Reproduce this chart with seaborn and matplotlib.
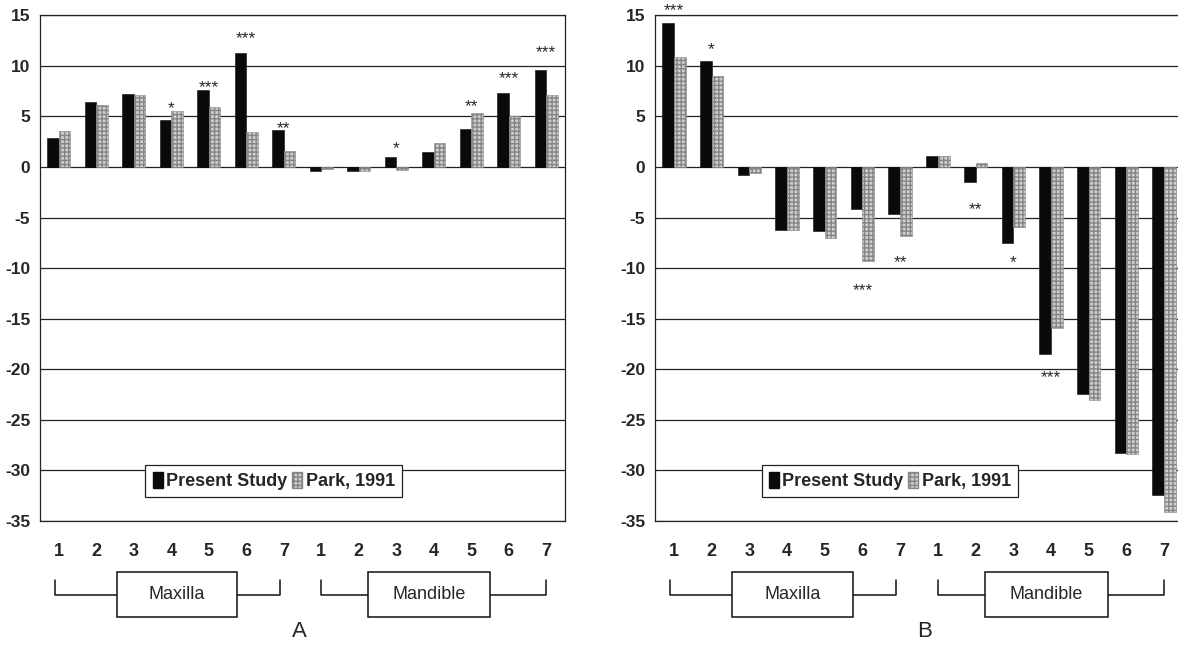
import pandas as pd
import matplotlib
matplotlib.use("Agg")
import matplotlib.pyplot as plt
import matplotlib.transforms as mtransforms
from matplotlib.patches import Rectangle, Patch
import seaborn as sns

# tooth positions: 7 maxilla + 7 mandible
teeth = ["1", "2", "3", "4", "5", "6", "7", "1", "2", "3", "4", "5", "6", "7"]
positions = ["Mx1", "Mx2", "Mx3", "Mx4", "Mx5", "Mx6", "Mx7",
             "Md1", "Md2", "Md3", "Md4", "Md5", "Md6", "Md7"]
studies = ["Present Study", "Park, 1991"]

# panel A values
a_present = [2.9, 6.4, 7.2, 4.6, 7.6, 11.3, 3.7, -0.4, -0.4, 1.0, 1.5, 3.8, 7.3, 9.6]
a_park = [3.6, 6.1, 7.1, 5.5, 5.9, 3.5, 1.6, -0.2, -0.4, -0.3, 2.4, 5.3, 5.0, 7.1]
a_stars = ["", "", "", "*", "***", "***", "**", "", "", "*", "", "**", "***", "***"]
a_star_y = [0, 0, 0, 6.3, 8.4, 13.2, 4.3, 0, 0, 2.4, 0, 6.5, 9.3, 11.9]

# panel B values
b_present = [14.2, 10.5, -0.8, -6.2, -6.3, -4.2, -4.6, 1.1, -1.5, -7.5, -18.5, -22.4, -28.3, -32.4]
b_park = [10.9, 9.0, -0.6, -6.2, -7.0, -9.3, -6.8, 1.1, 0.4, -5.9, -15.9, -23.0, -28.4, -34.1]
b_stars = ["***", "*", "", "", "", "***", "**", "", "**", "*", "***", "", "", ""]
b_star_y = [16.0, 12.2, 0, 0, 0, -11.7, -8.9, 0, -3.7, -8.9, -20.3, 0, 0, 0]

yticks = list(range(-35, 16, 5))
groups = ["Maxilla", "Mandible"]

BLACK = "#0a0a0a"
GRAY = "#cfcfcf"


def long_frame(present, park):
    df = pd.DataFrame({"pos": positions * 2,
                       "study": [studies[0]] * 14 + [studies[1]] * 14,
                       "value": present + park})
    return df


def draw_panel(ax, present, park, stars, star_y):
    df = long_frame(present, park)
    sns.barplot(data=df, x="pos", y="value", hue="study", order=positions,
                hue_order=studies, palette=[BLACK, GRAY], width=0.62,
                saturation=1, legend=False, ax=ax, zorder=3)
    for p in ax.containers[0]:
        p.set_edgecolor(BLACK)
        p.set_linewidth(0.4)
    for p in ax.containers[1]:
        p.set_hatch("++++")
        p.set_edgecolor("#858585")
        p.set_linewidth(0.4)

    ax.set_ylim(-35, 15)
    ax.set_xlim(-0.5, 13.5)
    ax.set_yticks(yticks)
    ax.set_yticklabels([str(t) for t in yticks], fontweight="bold", fontsize=12.5)
    ax.set_xticks(range(14))
    ax.set_xticklabels(teeth, fontweight="bold", fontsize=13)
    ax.tick_params(axis="both", length=0)
    ax.tick_params(axis="x", pad=16)
    ax.tick_params(axis="y", pad=7)
    ax.set_xlabel("")
    ax.set_ylabel("")
    ax.yaxis.grid(True, color="#222222", linewidth=0.9)
    ax.set_axisbelow(True)
    for s in ax.spines.values():
        s.set_color("#222222")
        s.set_linewidth(0.9)

    # significance stars
    for i, (s, y) in enumerate(zip(stars, star_y)):
        if s:
            ax.text(i, y - 1.0, s, ha="center", va="baseline", fontsize=12.5,
                    clip_on=False, zorder=5)

    # legend
    handles = [Patch(facecolor=BLACK, edgecolor=BLACK),
               Patch(facecolor=GRAY, edgecolor="#858585", hatch="++++")]
    leg = ax.legend(handles, studies, ncol=2, loc="center",
                    bbox_to_anchor=(0.445, 0.079), frameon=True, fancybox=False,
                    edgecolor="#222222", framealpha=1, handlelength=0.55,
                    handleheight=1.0, handletextpad=0.2, columnspacing=0.25,
                    borderpad=0.4, borderaxespad=0,
                    prop={"weight": "bold", "size": 13})
    leg.get_frame().set_linewidth(0.9)
    leg.set_zorder(6)

    # group brackets below the tick labels
    trans = mtransforms.blended_transform_factory(ax.transData, ax.transAxes)
    spans = [(-0.1, 5.9, 1.55, 4.75), (7.0, 13.0, 8.25, 11.5)]
    for name, (x0, x1, b0, b1) in zip(groups, spans):
        ax.plot([x0, x0, x1, x1], [-0.117, -0.146, -0.146, -0.117], color="#111111",
                lw=1.1, transform=trans, clip_on=False)
        ax.add_patch(Rectangle((b0, -0.19), b1 - b0, 0.089, transform=trans,
                               facecolor="white", edgecolor="#111111", lw=1.1,
                               clip_on=False, zorder=4))
        ax.text((b0 + b1) / 2, -0.146, name, transform=trans, ha="center",
                va="center", fontsize=13, zorder=5)


def main():
    sns.set_style("white")
    plt.rcParams["font.family"] = ["Liberation Sans", "DejaVu Sans"]
    plt.rcParams["axes.unicode_minus"] = False

    fig = plt.figure(figsize=(11.78, 6.5), dpi=100)
    ax_a = fig.add_axes([0.034, 0.1985, 0.4457, 0.778])
    ax_b = fig.add_axes([0.556, 0.1985, 0.4482, 0.778])

    draw_panel(ax_a, a_present, a_park, a_stars, a_star_y)
    draw_panel(ax_b, b_present, b_park, b_stars, b_star_y)

    fig.text(0.254, 0.02, "A", ha="center", va="baseline", fontsize=16)
    fig.text(0.785, 0.02, "B", ha="center", va="baseline", fontsize=16)

    fig.savefig("out.png", dpi=100)


if __name__ == "__main__":
    main()
